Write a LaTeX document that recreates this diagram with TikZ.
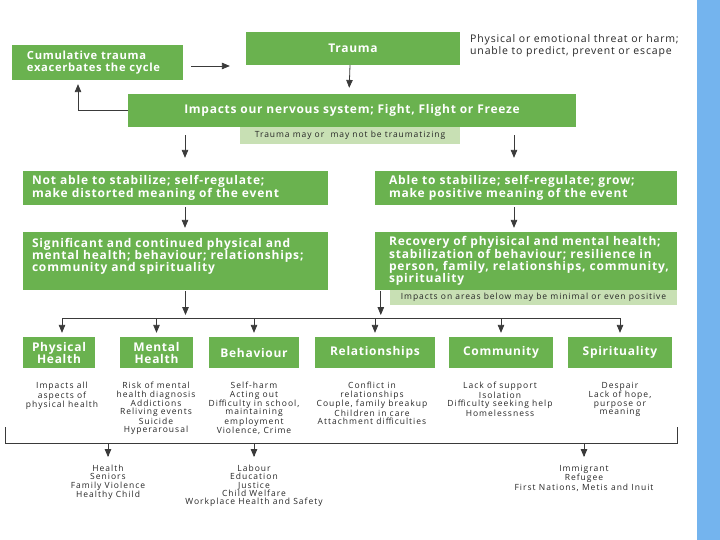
\documentclass[tikz,border=0pt]{standalone}
\usepackage{fontspec}
\setmainfont{Open Sans}
\newfontfamily\boxfont[LetterSpace=6]{Open Sans}
\newfontfamily\widefont[LetterSpace=7]{Open Sans}
\newfontfamily\sidefont[LetterSpace=8]{Open Sans}
\newfontfamily\notefont[LetterSpace=11]{Open Sans}
\newfontfamily\smallfont[LetterSpace=12]{Open Sans}
\usetikzlibrary{arrows}

\definecolor{boxgreen}{HTML}{6AB24F}
\definecolor{notegreen}{HTML}{C8E0B4}
\definecolor{sidebar}{HTML}{74B4EE}
\definecolor{linegray}{HTML}{3A3A3A}
\definecolor{textgray}{HTML}{262626}

\tikzset{
    greenbox/.style={fill=boxgreen, text=white, inner ysep=0pt,
        font=\widefont\fontsize{12}{12}\selectfont\bfseries},
    plainbox/.style={greenbox, inner xsep=9pt, align=left},
    midbox/.style={greenbox, inner xsep=0pt, align=center,
        font=\boxfont\fontsize{12}{12}\selectfont\bfseries},
    catbox/.style={midbox, minimum height=31pt},
    notebox/.style={fill=notegreen, text=textgray, inner sep=0pt,
        font=\notefont\fontsize{8.5}{9}\selectfont},
    sidetext/.style={text=textgray, inner sep=0pt, align=left,
        font=\sidefont\fontsize{10.5}{12}\selectfont},
    smalltext/.style={text=textgray, inner sep=0pt, align=center, anchor=north,
        font=\smallfont\fontsize{8.5}{8.3}\selectfont},
    line/.style={draw=linegray, line width=0.8pt},
    flow/.style={line, -triangle 45}
}

\begin{document}
\begin{tikzpicture}[x=1pt,y=-1pt]
                \useasboundingbox (0,0) rectangle (720,540);
                \fill[sidebar] (697,0) rectangle (720,540);

                \coordinate (bus) at (0,318);
                \coordinate (brk) at (0,443);
                \coordinate (brL) at (5,427);
                \coordinate (brR) at (677,427);

                \node[plainbox, inner xsep=15pt, text width=141pt, minimum height=35pt,
                    font=\boxfont\fontsize{11.2}{12}\selectfont\bfseries] (cum) at (97.5,62.5)
                    {\mbox{Cumulative trauma}\\\mbox{exacerbates the cycle}};
                \node[midbox, minimum width=214pt, minimum height=33pt] (trauma) at (353,48.5) {Trauma};
                \node[sidetext, anchor=west] (threat) at (470,46)
                    {Physical or emotional threat or harm;\\unable to predict, prevent or escape};
                \node[midbox, minimum width=448pt, minimum height=33pt] (impacts) at (352,110.5)
                    {Impacts our nervous system; Fight, Flight or Freeze};
                \node[notebox, anchor=north, minimum width=220pt, minimum height=17pt] (maybe) at (350,127)
                    {Trauma may or\ \ may not be traumatizing};

                \node[plainbox, text width=287pt, minimum height=34pt] (unstable) at (175.5,188)
                    {\mbox{Not able to stabilize; self-regulate;}\\\mbox{make distorted meaning of the event}};
                \node[plainbox, text width=287pt, minimum height=58pt] (harm) at (175.5,261)
                    {\mbox{Significant and continued physical and}\\\mbox{mental health; behaviour; relationships;}\\\mbox{community and spirituality}\\\mbox{}};
                \node[plainbox, inner xsep=14pt, text width=274pt, minimum height=34pt] (stable) at (526,188)
                    {\mbox{Able to stabilize; self-regulate; grow;}\\\mbox{make positive meaning of the event}};
                \node[plainbox, inner xsep=14pt, text width=274pt, minimum height=58pt] (recover) at (526,261)
                    {\mbox{Recovery of phyisical and mental health;}\\\mbox{stabilization of behaviour; resilience in}\\\mbox{person, family, relationships, community,}\\\mbox{spirituality}};
                \node[notebox, anchor=north, minimum width=287pt, minimum height=15pt] (minimal) at (533.5,290)
                    {Impacts on areas below may be minimal or even positive};

                \node[catbox, minimum width=72pt] (phys) at (59,352.5) {Physical\\Health};
                \node[catbox, minimum width=73pt] (mental) at (156.5,352.5) {Mental\\Health};
                \node[catbox, minimum width=90pt] (behav) at (254,352.5) {Behaviour};
                \node[catbox, minimum width=120pt] (relat) at (375,352.5) {Relationships};
                \node[catbox, minimum width=104pt] (commun) at (501,352.5) {Community};
                \node[catbox, minimum width=104pt] (spirit) at (620,352.5) {Spirituality};

                \node[smalltext] (physTxt) at (62,382) {Impacts all\\aspects of\\physical health};
                \node[smalltext] (mentalTxt) at (156,382)
                    {Risk of mental\\health diagnosis\\Addictions\\Reliving events\\Suicide\\Hyperarousal};
                \node[smalltext] (behavTxt) at (254,382)
                    {Self-harm\\Acting out\\Difficulty in school,\\maintaining\\employment\\Violence, Crime};
                \node[smalltext] (relatTxt) at (372,382)
                    {Conflict in\\relationships\\Couple, family breakup\\Children in care\\Attachment difficulties};
                \node[smalltext] (communTxt) at (500,382)
                    {Lack of support\\Isolation\\Difficulty seeking help\\Homelessness};
                \node[smalltext] (spiritTxt) at (620,382) {Despair\\Lack of hope,\\purpose or\\meaning};

                \node[smalltext] (health) at (108,465) {Health\\Seniors\\Family Violence\\Healthy Child};
                \node[smalltext] (labour) at (254,465)
                    {Labour\\Education\\Justice\\Child Welfare\\Workplace Health and Safety};
                \node[smalltext] (immig) at (584,465) {Immigrant\\Refugee\\First Nations, Metis and Inuit};

                \draw[flow, shorten <=8pt, shorten >=16pt] ([yshift=-3.5pt]cum.east) -- ([yshift=-3.5pt]cum.east -| trauma.west);
                \draw[flow, shorten >=6pt] ([xshift=-3pt]trauma.south) -- ([xshift=-3pt]impacts.north);
                \draw[flow, shorten >=4pt] (impacts.west) -| ([xshift=-19.5pt]cum.south);

                \draw[flow, shorten <=8pt, shorten >=13pt] ([xshift=9.5pt]unstable.north |- impacts.south) -- ([xshift=9.5pt]unstable.north);
                \draw[flow, shorten <=8pt, shorten >=13pt] ([xshift=-12pt]stable.north |- impacts.south) -- ([xshift=-12pt]stable.north);
                \draw[flow, shorten <=2pt, shorten >=4pt] ([xshift=9.5pt]unstable.south) -- ([xshift=9.5pt]harm.north);
                \draw[flow, shorten <=2pt, shorten >=4pt] ([xshift=-12pt]stable.south) -- ([xshift=-12pt]recover.north);

                \draw[flow, shorten <=1pt, shorten >=3pt] ([xshift=10pt]harm.south) -- ([xshift=10pt]harm.south |- bus);
                \draw[flow, shorten <=1pt, shorten >=3pt] ([xshift=6pt]recover.south west) -- ([xshift=6pt]recover.south west |- bus);

                \draw[line] ([xshift=3pt]phys.north |- bus) -- (spirit.north |- bus);
                \draw[flow, shorten >=4pt] ([xshift=3pt]phys.north |- bus) -- ([xshift=3pt]phys.north);
                \draw[flow, shorten >=4pt] (mental.north |- bus) -- (mental.north);
                \draw[flow, shorten >=4pt] (behav.north |- bus) -- (behav.north);
                \draw[flow, shorten >=4pt] (relat.north |- bus) -- (relat.north);
                \draw[flow, shorten >=4pt] (commun.north |- bus) -- (commun.north);
                \draw[flow, shorten >=4pt] (spirit.north |- bus) -- (spirit.north);

                \draw[line] (brL) |- (brR |- brk) -- (brR);
                \draw[flow, shorten >=8pt] (health.north |- brk) -- (health.north);
                \draw[flow, shorten >=8pt] (labour.north |- brk) -- (labour.north);
                \draw[flow, shorten >=8pt] (immig.north |- brk) -- (immig.north);
\end{tikzpicture}
\end{document}
